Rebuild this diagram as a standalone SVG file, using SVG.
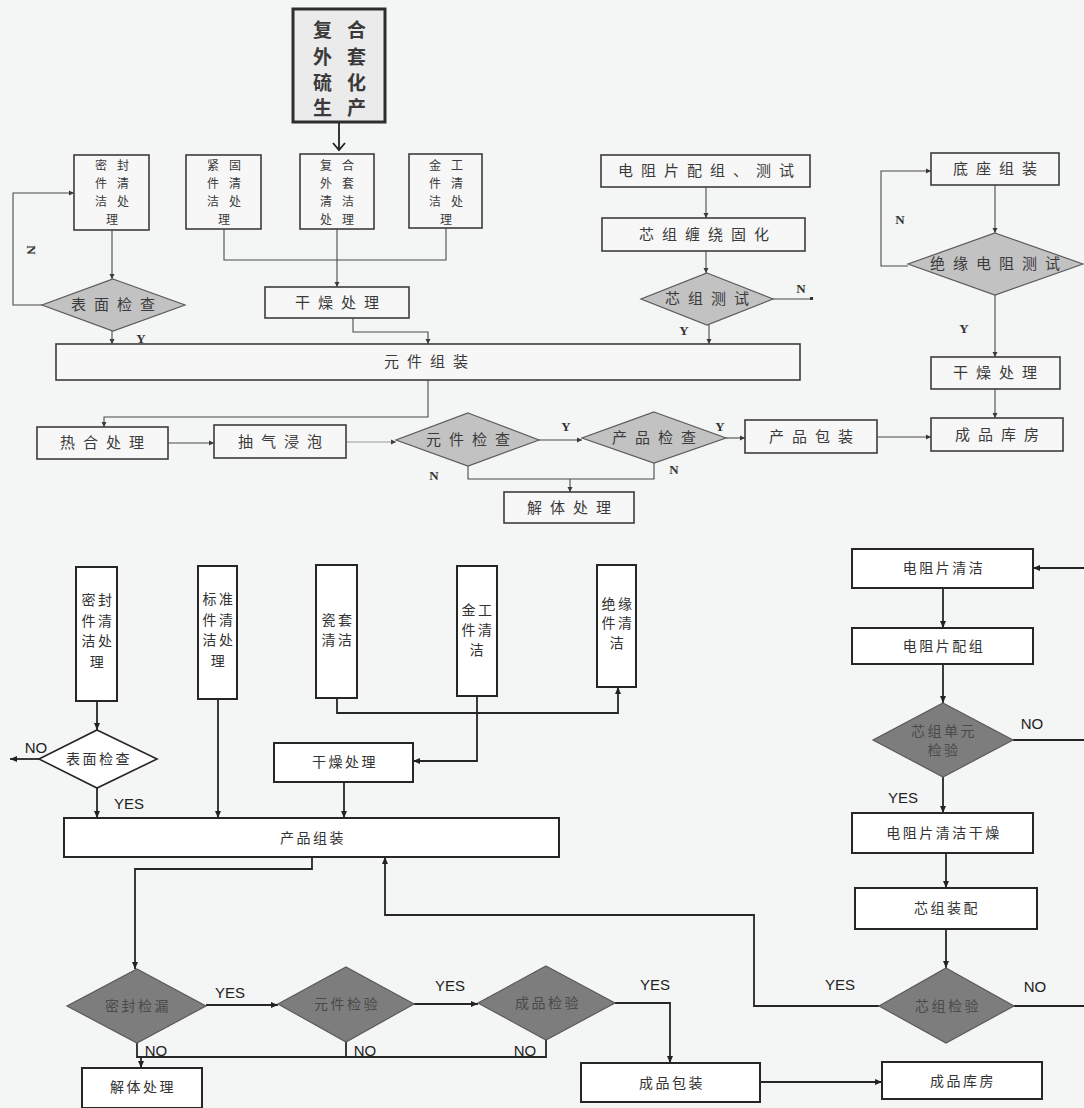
<svg xmlns="http://www.w3.org/2000/svg" width="1084" height="1108" viewBox="0 0 1084 1108">
<style>
.bg{fill:#f4f5f5}
.tb{fill:#f7f7f7;stroke:#3c3c3c;stroke-width:1.6}
.tbh{fill:#ebebeb;stroke:#2e2e2e;stroke-width:3}
.td{fill:#c2c2c2;stroke:#5a5a5a;stroke-width:1.2}
.bb{fill:#ffffff;stroke:#262626;stroke-width:2}
.bdw{fill:#ffffff;stroke:#262626;stroke-width:1.6}
.bdd{fill:#7d7d7d;stroke:#5a5a5a;stroke-width:1.2}
.t{font-family:"Noto Sans CJK SC","Noto Sans",sans-serif;font-size:15px;letter-spacing:8px;fill:#3a3a3a;text-anchor:middle}
.t4{font-family:"Noto Sans CJK SC","Noto Sans",sans-serif;font-size:12px;letter-spacing:10px;fill:#3a3a3a;text-anchor:middle}
.tl{font-family:"Noto Sans CJK SC","Noto Sans",sans-serif;font-size:19px;letter-spacing:15px;fill:#3a3a3a;text-anchor:middle;font-weight:bold}
.b{font-family:"Noto Sans CJK SC","Noto Sans",sans-serif;font-size:14px;letter-spacing:2.5px;fill:#333;text-anchor:middle}
.bd{font-family:"Noto Sans CJK SC","Noto Sans",sans-serif;font-size:14px;letter-spacing:2.5px;fill:#4a4a4a;text-anchor:middle}
.yn1{font-family:"Liberation Serif",serif;font-size:13px;font-weight:bold;fill:#333;text-anchor:middle}
.yn2{font-family:"Liberation Sans",Arial,sans-serif;font-size:15px;fill:#222;text-anchor:middle}
.ct{fill:none;stroke:#4a4a4a;stroke-width:1.1}
.cb{fill:none;stroke:#262626;stroke-width:1.8}
</style>
<defs>
<marker id="at" markerWidth="6" markerHeight="6" refX="5" refY="3" orient="auto" markerUnits="userSpaceOnUse"><path d="M0,0.5 L5,3 L0,5.5 Z" fill="#3a3a3a"/></marker>
<marker id="ab" markerWidth="8" markerHeight="8" refX="7" refY="4" orient="auto" markerUnits="userSpaceOnUse"><path d="M0,1 L7,4 L0,7 Z" fill="#222"/></marker>
</defs>
<rect class="bg" x="0" y="0" width="1084" height="1108"/>

<g id="connectors">
<path class="ct" d="M339,122 V150" style="stroke-width:1.8;stroke:#222"/>
<path d="M333,143 L339,150 L345,143" fill="none" stroke="#222" stroke-width="1.8"/>
<path class="ct" d="M224,229 V260 H446 V228"/>
<path class="ct" d="M337,229 V287" marker-end="url(#at)"/>
<path class="ct" d="M353,318 V332 H428 V344" marker-end="url(#at)"/>
<path class="ct" d="M112,230 V279" marker-end="url(#at)"/>
<path class="ct" d="M42,305 H13 V193 H74" marker-end="url(#at)"/>
<path class="ct" d="M112,331 V344" marker-end="url(#at)"/>
<path class="ct" d="M706,187 V218" marker-end="url(#at)"/>
<path class="ct" d="M706,251 V273" marker-end="url(#at)"/>
<path class="ct" d="M773,299 H812"/>
<rect x="810" y="297" width="3" height="3" fill="#333"/>
<path class="ct" d="M709,325 V344" marker-end="url(#at)"/>
<path class="ct" d="M995,185 V233" marker-end="url(#at)"/>
<path class="ct" d="M908,266 H881 V171 H931" marker-end="url(#at)"/>
<path class="ct" d="M995,295 V357" marker-end="url(#at)"/>
<path class="ct" d="M995,389 V418" marker-end="url(#at)"/>
<path class="ct" d="M428,380 V417 H104 V427" marker-end="url(#at)"/>
<path class="ct" d="M168,443 H214" marker-end="url(#at)"/>
<path class="ct" d="M346,442 H396" marker-end="url(#at)" style="stroke:#9a9a9a"/>
<path class="ct" d="M539,440 H582" marker-end="url(#at)"/>
<path class="ct" d="M726,438 H745" marker-end="url(#at)"/>
<path class="ct" d="M877,437 H931" marker-end="url(#at)"/>
<path class="ct" d="M468,466 V479 H654 V463"/>
<path class="ct" d="M570,479 V492" marker-end="url(#at)"/>
<path class="cb" d="M97,701 V730" marker-end="url(#ab)"/>
<path class="cb" d="M39,759 H10" marker-end="url(#ab)"/>
<path class="cb" d="M97,788 V818" marker-end="url(#ab)"/>
<path class="cb" d="M218,699 V818" marker-end="url(#ab)"/>
<path class="cb" d="M337,698 V713 H618 V687" marker-end="url(#ab)"/>
<path class="cb" d="M477,696 V761 H413" marker-end="url(#ab)"/>
<path class="cb" d="M344,782 V818" marker-end="url(#ab)"/>
<path class="cb" d="M312,857 V869 H135 V969" marker-end="url(#ab)"/>
<path class="cb" d="M206,1005 H278" marker-end="url(#ab)"/>
<path class="cb" d="M414,1004 H478" marker-end="url(#ab)"/>
<path class="cb" d="M615,1003 H670 V1063" marker-end="url(#ab)"/>
<path class="cb" d="M137,1043 V1057 H546 V1040"/>
<path class="cb" d="M346,1042 V1057"/>
<path class="cb" d="M141,1057 V1068" marker-end="url(#ab)"/>
<path class="cb" d="M760,1082 H882" marker-end="url(#ab)"/>
<path class="cb" d="M1084,568 H1033" marker-end="url(#ab)"/>
<path class="cb" d="M943,588 V628" marker-end="url(#ab)"/>
<path class="cb" d="M943,664 V703" marker-end="url(#ab)"/>
<path class="cb" d="M1013,740 H1084"/>
<path class="cb" d="M943,777 V813" marker-end="url(#ab)"/>
<path class="cb" d="M946,853 V888" marker-end="url(#ab)"/>
<path class="cb" d="M946,929 V968" marker-end="url(#ab)"/>
<path class="cb" d="M879,1006 H754 V915 H385 V857" marker-end="url(#ab)"/>
<path class="cb" d="M1014,1006 H1084"/>
<text class="yn1" transform="translate(27,250) rotate(90)">N</text>
<text class="yn1" x="141" y="343">Y</text>
<text class="yn1" x="801" y="293">N</text>
<text class="yn1" x="684" y="335">Y</text>
<text class="yn1" x="900" y="224">N</text>
<text class="yn1" x="964" y="333">Y</text>
<text class="yn1" x="566" y="431">Y</text>
<text class="yn1" x="720" y="431">Y</text>
<text class="yn1" x="434" y="480">N</text>
<text class="yn1" x="674" y="474">N</text>
<text class="yn2" x="36" y="753">NO</text>
<text class="yn2" x="129" y="809">YES</text>
<text class="yn2" x="230" y="998">YES</text>
<text class="yn2" x="450" y="991">YES</text>
<text class="yn2" x="655" y="990">YES</text>
<text class="yn2" x="156" y="1056">NO</text>
<text class="yn2" x="365" y="1056">NO</text>
<text class="yn2" x="525" y="1056">NO</text>
<text class="yn2" x="1032" y="729">NO</text>
<text class="yn2" x="903" y="803">YES</text>
<text class="yn2" x="840" y="990">YES</text>
<text class="yn2" x="1035" y="992">NO</text>
</g>

<g id="n_vulc"><rect class="tbh" x="293" y="9" width="92" height="113"/>
<text class="tl" x="347" y="37">复合</text><text class="tl" x="347" y="64">外套</text><text class="tl" x="347" y="90">硫化</text><text class="tl" x="347" y="115">生产</text></g>
<g id="n_seal_t"><rect class="tb" x="74" y="155" width="75" height="75"/>
<text class="t4" x="117" y="170">密封</text><text class="t4" x="117" y="188">件清</text><text class="t4" x="117" y="206">洁处</text><text class="t4" x="117" y="224">理</text></g>
<g id="n_fast_t"><rect class="tb" x="186" y="155" width="75" height="74"/>
<text class="t4" x="229" y="170">紧固</text><text class="t4" x="229" y="188">件清</text><text class="t4" x="229" y="206">洁处</text><text class="t4" x="229" y="224">理</text></g>
<g id="n_comp_t"><rect class="tb" x="300" y="154" width="74" height="75"/>
<text class="t4" x="342" y="170">复合</text><text class="t4" x="342" y="188">外套</text><text class="t4" x="342" y="206">清洁</text><text class="t4" x="342" y="224">处理</text></g>
<g id="n_metal_t"><rect class="tb" x="409" y="154" width="73" height="74"/>
<text class="t4" x="451" y="170">金工</text><text class="t4" x="451" y="188">件清</text><text class="t4" x="451" y="206">洁处</text><text class="t4" x="451" y="224">理</text></g>
<g id="n_dry_t"><rect class="tb" x="265" y="287" width="144" height="31"/><text class="t" x="341" y="308">干燥处理</text></g>
<g id="n_surf_t"><polygon class="td" points="113,279 185,305 113,331 42,305"/><text class="t" x="117" y="310">表面检查</text></g>
<g id="n_assy_t"><rect class="tb" x="56" y="344" width="744" height="36"/><text class="t" x="430" y="367">元件组装</text></g>
<g id="n_rmatch_t"><rect class="tb" x="601" y="155" width="209" height="32"/><text class="t" x="710" y="176">电阻片配组、测试</text></g>
<g id="n_wind_t"><rect class="tb" x="602" y="218" width="203" height="33"/><text class="t" x="708" y="240">芯组缠绕固化</text></g>
<g id="n_coretest_t"><polygon class="td" points="707,273 773,299 707,325 641,299"/><text class="t" x="711" y="304">芯组测试</text></g>
<g id="n_base_t"><rect class="tb" x="931" y="153" width="128" height="32"/><text class="t" x="999" y="174">底座组装</text></g>
<g id="n_ins_t"><polygon class="td" points="995,233 1083,264 995,295 908,264"/><text class="t" x="999" y="269">绝缘电阻测试</text></g>
<g id="n_dry2_t"><rect class="tb" x="931" y="357" width="129" height="32"/><text class="t" x="999" y="378">干燥处理</text></g>
<g id="n_store_t"><rect class="tb" x="931" y="418" width="132" height="33"/><text class="t" x="1001" y="440">成品库房</text></g>
<g id="n_heat_t"><rect class="tb" x="37" y="427" width="131" height="32"/><text class="t" x="106" y="448">热合处理</text></g>
<g id="n_vac_t"><rect class="tb" x="214" y="425" width="132" height="33"/><text class="t" x="284" y="447">抽气浸泡</text></g>
<g id="n_elem_t"><polygon class="td" points="468,413 539,440 468,466 396,440"/><text class="t" x="472" y="445">元件检查</text></g>
<g id="n_prod_t"><polygon class="td" points="654,412 726,438 654,463 582,438"/><text class="t" x="658" y="443">产品检查</text></g>
<g id="n_pack_t"><rect class="tb" x="745" y="420" width="132" height="33"/><text class="t" x="815" y="442">产品包装</text></g>
<g id="n_dis_t"><rect class="tb" x="504" y="492" width="130" height="31"/><text class="t" x="573" y="513">解体处理</text></g>

<g id="n_seal_b"><rect class="bb" x="76" y="567" width="41" height="134"/>
<text class="b" x="98" y="605">密封</text><text class="b" x="98" y="626">件清</text><text class="b" x="98" y="646">洁处</text><text class="b" x="98" y="667">理</text></g>
<g id="n_std_b"><rect class="bb" x="198" y="566" width="39" height="133"/>
<text class="b" x="219" y="604">标准</text><text class="b" x="219" y="625">件清</text><text class="b" x="219" y="645">洁处</text><text class="b" x="219" y="666">理</text></g>
<g id="n_porc_b"><rect class="bb" x="316" y="565" width="41" height="133"/>
<text class="b" x="338" y="625">瓷套</text><text class="b" x="338" y="645">清洁</text></g>
<g id="n_metal_b"><rect class="bb" x="457" y="566" width="40" height="130"/>
<text class="b" x="478" y="615">金工</text><text class="b" x="478" y="635">件清</text><text class="b" x="478" y="655">洁</text></g>
<g id="n_insul_b"><rect class="bb" x="597" y="565" width="39" height="122"/>
<text class="b" x="618" y="609">绝缘</text><text class="b" x="618" y="628">件清</text><text class="b" x="618" y="648">洁</text></g>
<g id="n_surf_b"><polygon class="bdw" points="97,730 157,759 97,788 39,759"/><text class="b" x="99" y="764">表面检查</text></g>
<g id="n_dry_b"><rect class="bb" x="274" y="743" width="139" height="39"/><text class="b" x="345" y="767">干燥处理</text></g>
<g id="n_assy_b"><rect class="bb" x="64" y="818" width="495" height="39"/><text class="b" x="313" y="843">产品组装</text></g>
<g id="n_leak_b"><polygon class="bdd" points="137,969 206,1006 137,1043 67,1006"/><text class="bd" x="138" y="1011">密封检漏</text></g>
<g id="n_elem_b"><polygon class="bdd" points="346,967 414,1004 346,1042 278,1004"/><text class="bd" x="347" y="1009">元件检验</text></g>
<g id="n_prod_b"><polygon class="bdd" points="546,966 615,1003 546,1040 478,1003"/><text class="bd" x="548" y="1008">成品检验</text></g>
<g id="n_dis_b"><rect class="bb" x="82" y="1068" width="120" height="40"/><text class="b" x="143" y="1092">解体处理</text></g>
<g id="n_pack_b"><rect class="bb" x="581" y="1063" width="179" height="39"/><text class="b" x="672" y="1088">成品包装</text></g>
<g id="n_store_b"><rect class="bb" x="882" y="1062" width="160" height="37"/><text class="b" x="963" y="1086">成品库房</text></g>
<g id="n_rclean_b"><rect class="bb" x="852" y="549" width="181" height="39"/><text class="b" x="944" y="573">电阻片清洁</text></g>
<g id="n_rmatch_b"><rect class="bb" x="852" y="628" width="181" height="36"/><text class="b" x="944" y="651">电阻片配组</text></g>
<g id="n_unit_b"><polygon class="bdd" points="943,703 1013,740 943,777 873,740"/>
<text class="bd" x="944" y="736">芯组单元</text><text class="bd" x="944" y="755">检验</text></g>
<g id="n_rdry_b"><rect class="bb" x="852" y="813" width="181" height="40"/><text class="b" x="944" y="838">电阻片清洁干燥</text></g>
<g id="n_core_b"><rect class="bb" x="855" y="888" width="182" height="41"/><text class="b" x="947" y="913">芯组装配</text></g>
<g id="n_corechk_b"><polygon class="bdd" points="946,968 1014,1006 946,1043 879,1006"/><text class="bd" x="948" y="1011">芯组检验</text></g>
</svg>
